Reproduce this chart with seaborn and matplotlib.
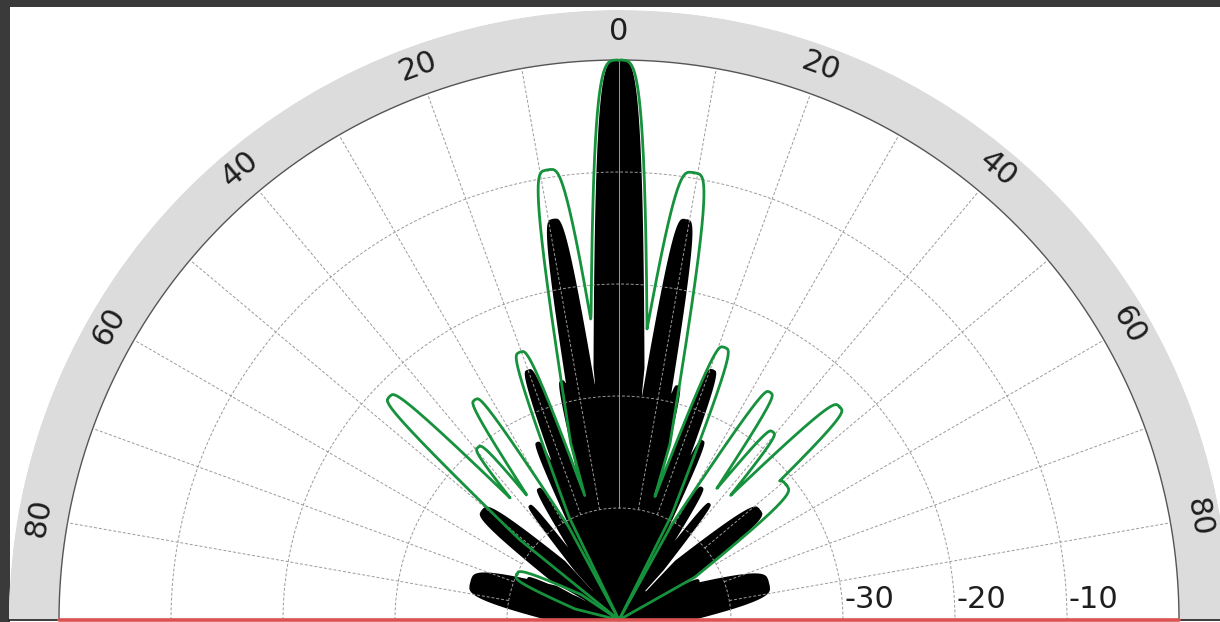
import numpy as np
import matplotlib
matplotlib.use("Agg")
import matplotlib.pyplot as plt
import seaborn as sns
from matplotlib.patches import Rectangle
from contourpy import contour_generator

# ---------------- data ----------------
# black (filled) pattern: lobe direction (deg, 0 = boresight), peak level (dB), lobe half-width (radial units)
black_angle = [0, -9.3, 9.5, -13.5, 14.1, -20.0, 20.6, -24.7, 25.0, -31.5, 32.0,
               -38.0, 37.9, -51.2, 52.0, -65.5, 63.7, -75.7, 76.2]
black_peak = [0.0, -13.7, -13.7, -28.0, -28.4, -26.2, -26.1, -32.5, -32.3, -36.2, -36.0,
              -37.0, -36.8, -34.3, -34.0, -41.0, -42.0, -36.3, -36.2]
black_width = [2.3, 1.3, 1.3, 0.6, 0.6, 0.85, 0.85, 0.55, 0.55, 0.5, 0.5,
               0.42, 0.42, 1.1, 1.1, 0.36, 0.36, 1.6, 1.6]
black_core_db = -46.5

# green (outline) pattern
green_angle = [0, -9.0, 9.5, -20.3, 21.2, -33.2, 33.6, -39.2, 39.3, -45.8, 46.0, 51.0, -66.0]
green_peak = [0.0, -9.3, -9.5, -24.5, -23.9, -26.5, -25.6, -30.1, -28.3, -21.4, -22.6, -30.8, -40.0]
green_width = [2.55, 1.8, 1.9, 1.0, 1.0, 0.8, 0.8, 0.7, 0.7, 1.05, 1.1, 1.3, 0.7]

angle_ticks = [-80, -60, -40, -20, 0, 20, 40, 60, 80]
angle_labels = ["80", "60", "40", "20", "0", "20", "40", "60", "80"]
ring_values = [-40, -30, -20, -10]
ring_labels = {-30: "-30", -20: "-20", -10: "-10"}
r_min, r_top = -50.0, 0.0

# ---------------- lobe field on a polar grid ----------------
th_deg = np.linspace(-90, 90, 1441)
rho = np.linspace(0, r_top - r_min, 1001)
TH, RHO = np.meshgrid(np.radians(th_deg), rho)
X, Y = RHO * np.sin(TH), RHO * np.cos(TH)


def lobe_field(angles, peaks, widths, taper=0.4):
    Z = np.full(TH.shape, -10.0)
    for a, pk, w in zip(angles, peaks, widths):
        phi = np.radians(a)
        L = pk - r_min
        t = X * np.sin(phi) + Y * np.cos(phi)
        n = np.abs(X * np.cos(phi) - Y * np.sin(phi))
        u = np.clip(t / L, 0, 1)
        h = w * (1 - u ** 4) ** 0.25 * np.clip(t / (taper * L), 0, 1)
        z = np.where((t > 0) & (t < L), h - n, -10.0)
        Z = np.maximum(Z, z)
    return Z


Zb = np.maximum(lobe_field(black_angle, black_peak, black_width, taper=0.45),
                (black_core_db - r_min) - RHO)
Zg = lobe_field(green_angle, green_peak, green_width)
R_DB = RHO + r_min

# ---------------- figure ----------------
sns.set_theme(style="white")
plt.rcParams["font.family"] = ["DejaVu Sans"]

W, H = 1220, 622
fig = plt.figure(figsize=(W / 100, H / 100), dpi=100, facecolor="#3a3a3a")
fig.patches.append(Rectangle((10 / W, 0), 1, (H - 7) / H, transform=fig.transFigure,
                             facecolor="white", edgecolor="none", zorder=-10))

cx, cy, r0_px, rout_px = 619, 620, 560, 610
upx = (r_top - r_min) / r0_px          # radial units per pixel
r_out = r_top + (rout_px - r0_px) * upx

side = 2 * rout_px
box_cy = (H - cy) + rout_px / 2
ax = fig.add_axes([(cx - rout_px) / W, (box_cy - side / 2) / H, side / W, side / H],
                  projection="polar")
ax.set_theta_zero_location("N")
ax.set_theta_direction(-1)
ax.set_thetamin(-90)
ax.set_thetamax(90)
ax.set_facecolor("white")
ax.grid(False)
for sp in ax.spines.values():
    sp.set_visible(False)

theta = np.radians(np.linspace(-90, 90, 1801))

# gray label band
ax.fill_between(theta, r_top, r_out, color="#dcdcdc", lw=0, zorder=1)
ax.plot(theta, np.full_like(theta, r_top), color="#555555", lw=1.0, zorder=2)

# black pattern (filled)
ax.contourf(TH, R_DB, Zb, levels=[0, 1e9], colors=["black"], zorder=3, antialiased=True)

# grid
for a in range(-80, 90, 10):
    ls = "-" if a == 0 else (0, (3, 2))
    ax.plot([np.radians(a)] * 2, [ring_values[0], r_top], color="#9a9a9a", lw=0.7, ls=ls, zorder=4)
for v in ring_values:
    ax.plot(theta, np.full_like(theta, v), color="#9a9a9a", lw=0.7, ls=(0, (3, 2)), zorder=4)

# green pattern (outline)
gen = contour_generator(TH, R_DB, Zg)
for seg in gen.lines(0.0):
    sns.lineplot(x=seg[:, 0], y=seg[:, 1], ax=ax, sort=False, estimator=None,
                 color="#16913c", lw=2.0, zorder=5)

# red baseline
ax.plot([-np.pi / 2, -np.pi / 2], [r_top, r_min], color="#dc5252", lw=2.6, zorder=6, clip_on=False)
ax.plot([np.pi / 2, np.pi / 2], [r_min, r_top], color="#dc5252", lw=2.6, zorder=6, clip_on=False)

# angle labels in band
r_lab = r_top + 29 * upx
for a, lab in zip(angle_ticks, angle_labels):
    ax.text(np.radians(a), r_lab, lab, rotation=-a, rotation_mode="anchor",
            ha="center", va="center", fontsize=22, color="#1e1e1e", zorder=7)

# radial labels along the bottom right
for v, lab in ring_labels.items():
    xu = (v - r_min) + 2 * upx
    yu = 20 * upx
    ax.text(np.arctan2(xu, yu), np.hypot(xu, yu) + r_min, lab, ha="left", va="center",
            fontsize=22, color="#1e1e1e", zorder=7)

ax.set_xticks([])
ax.set_yticks([])
ax.set_xlabel("")
ax.set_ylabel("")
ax.set_rlim(r_min, r_out)

fig.savefig("out.png", dpi=100, facecolor=fig.get_facecolor())
